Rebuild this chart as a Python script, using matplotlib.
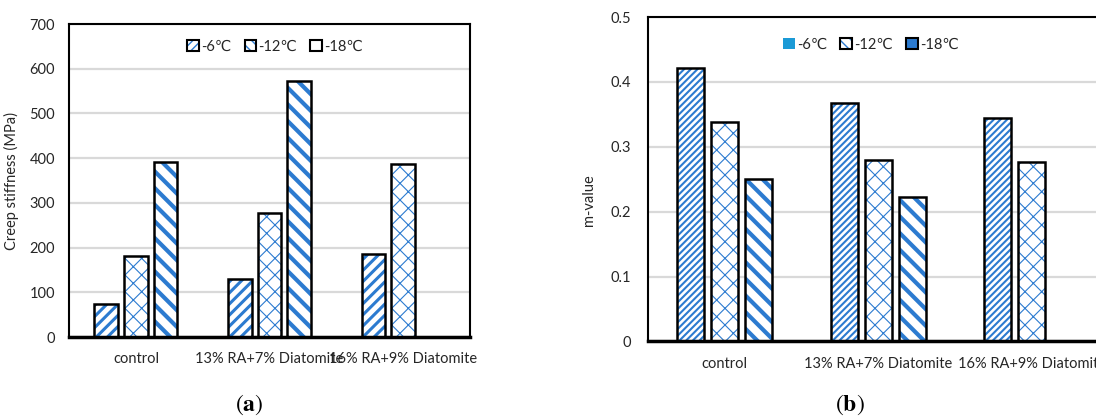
import numpy as np
import matplotlib
matplotlib.use("Agg")
import matplotlib.pyplot as plt
from matplotlib.patches import Patch

# data
categories = ["control", "13% RA+7% Diatomite", "16% RA+9% Diatomite"]
temps = ["-6\u2103", "-12\u2103", "-18\u2103"]
stiffness_6 = [74, 129, 186]
stiffness_12 = [181, 278, 388]
stiffness_18 = [392, 573, np.nan]
mvalue_6 = [0.422, 0.367, 0.345]
mvalue_12 = [0.338, 0.280, 0.276]
mvalue_18 = [0.251, 0.223, np.nan]

plt.rcParams['font.family'] = ['Lato', 'DejaVu Sans']
plt.rcParams['mathtext.fontset'] = 'stix'

BLUE = '#2c7bd0'
TXT = '#262626'

fig = plt.figure(figsize=(10.96, 4.16), dpi=100)
ax1 = fig.add_axes([0.0630, 0.1899, 0.3659, 0.7524])
ax2 = fig.add_axes([0.5912, 0.1791, 0.4202, 0.7800])


def set_hlw(patches, hlw):
    for p in patches:
        if hasattr(p, 'set_hatch_linewidth'):
            p.set_hatch_linewidth(hlw)


def hatched_bars(ax, x, vals, hatch, hlw):
    with plt.rc_context({'hatch.linewidth': hlw}):
        bars = ax.bar(x, vals, 0.177, color='white', edgecolor=BLUE, hatch=hatch,
                      linewidth=0, zorder=2)
    set_hlw(bars, hlw)
    ax.bar(x, vals, 0.177, fill=False, edgecolor='black', linewidth=1.8, zorder=3)
    return bars


def marker(hatch=None, fc='white', ec='black', hlw=1.0):
    # small legend square: blue hatch underneath, black border on top
    with plt.rc_context({'hatch.linewidth': hlw}):
        inner = Patch(facecolor=fc, edgecolor=BLUE, hatch=hatch, linewidth=0)
    set_hlw([inner], hlw)
    border = Patch(fill=False, edgecolor=ec, linewidth=1.5)
    return (inner, border)


def style(ax, ymax, step, fmt):
    ax.set_xlim(-0.5, 2.5)
    ax.set_ylim(0, ymax)
    ticks = np.arange(0, ymax + step / 2, step)
    ax.set_yticks(ticks)
    ax.set_yticklabels([fmt(v) for v in ticks])
    ax.set_xticks(range(len(categories)))
    ax.set_xticklabels(categories)
    ax.tick_params(length=0, labelsize=10.5, colors=TXT)
    ax.tick_params(axis='x', pad=11)
    ax.tick_params(axis='y', pad=10)
    ax.yaxis.grid(True, color='#d9d9d9', linewidth=1.6)
    ax.set_axisbelow(True)
    for s in ax.spines.values():
        s.set_linewidth(1.5)
    ax.spines['bottom'].set_linewidth(2.5)


x = np.arange(len(categories))
off = 0.222

# (a) creep stiffness
hatched_bars(ax1, x - off, stiffness_6, '///', 2.2)
hatched_bars(ax1, x, stiffness_12, 'xx', 0.8)
hatched_bars(ax1, x + off, stiffness_18, '\\\\', 3.0)
style(ax1, 700, 100, lambda v: f"{v:.0f}")
ax1.set_ylabel("Creep stiffness (MPa)", fontsize=10.5, color=TXT)
ax1.yaxis.set_label_coords(-0.125, 0.5)

h1 = [marker('////', hlw=1.5), marker('\\\\\\', hlw=1.5), marker(None)]
ax1.legend(h1, temps, ncol=3, loc='center', bbox_to_anchor=(0.514, 0.927),
           frameon=False, fontsize=10.5, handlelength=0.8, handleheight=0.8,
           handletextpad=0.15, columnspacing=0.9, labelcolor=TXT)

# (b) m-value
hatched_bars(ax2, x - off, mvalue_6, '/////', 1.5)
hatched_bars(ax2, x, mvalue_12, 'xx', 0.8)
hatched_bars(ax2, x + off, mvalue_18, '\\\\', 3.0)
style(ax2, 0.5, 0.1, lambda v: "0" if v == 0 else f"{v:.1f}")
ax2.tick_params(axis='y', pad=12)
ax2.set_ylabel("m-value", fontsize=10.5, color=TXT)
ax2.yaxis.set_label_coords(-0.113, 0.436)

h2 = [(Patch(facecolor='#1b9ad6', edgecolor='none'),),
      marker('\\\\\\', hlw=1.0),
      marker(None, fc=BLUE)]
ax2.legend(h2, temps, ncol=3, loc='center', bbox_to_anchor=(0.484, 0.914),
           frameon=False, fontsize=10.5, handlelength=0.8, handleheight=0.8,
           handletextpad=0.15, columnspacing=0.9, labelcolor=TXT)

fig.text(0.2272, 0.027, r"($\mathbf{a}$)", fontsize=17, family='STIXGeneral',
         ha='center', va='center')
fig.text(0.7755, 0.027, r"($\mathbf{b}$)", fontsize=17, family='STIXGeneral',
         ha='center', va='center')

fig.savefig("out.png", dpi=100)
